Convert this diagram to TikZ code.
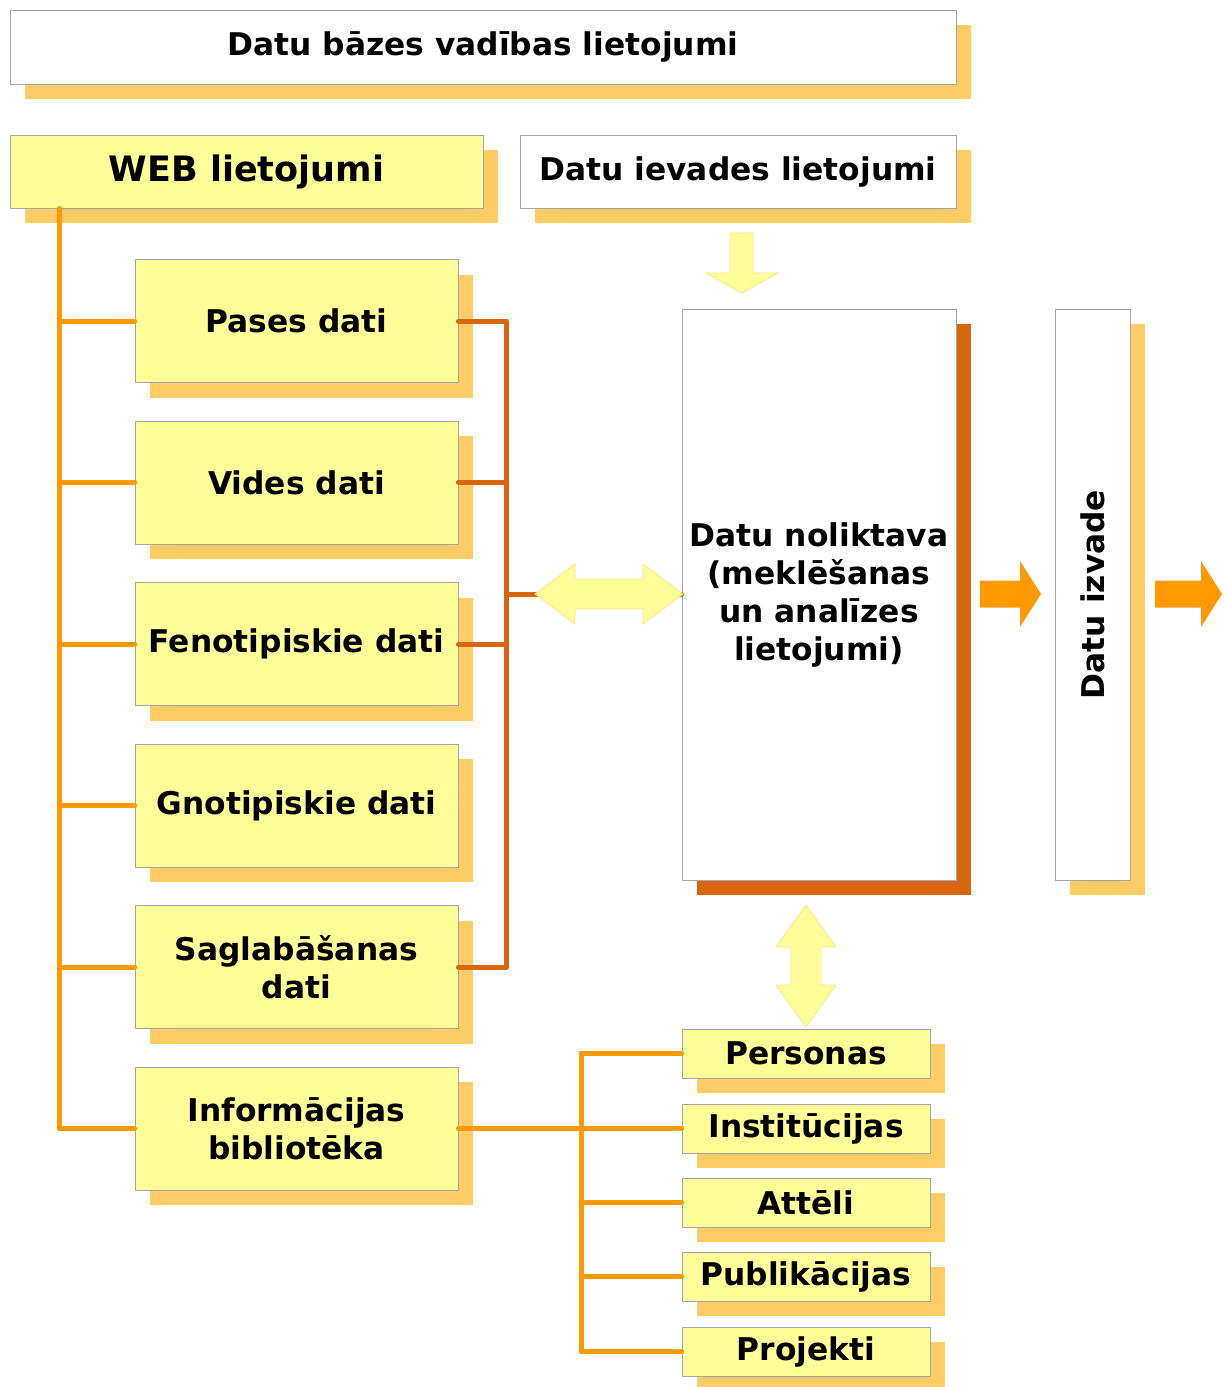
\documentclass[tikz,border=0pt]{standalone}
\usepackage{fontspec}
\setmainfont{DejaVu Sans}
\usetikzlibrary{shadows,calc}
\definecolor{byel}{HTML}{FFFF99}
\definecolor{shad}{HTML}{FFCC66}
\definecolor{bord}{HTML}{A6A6A6}
\definecolor{oline}{HTML}{FF9900}
\definecolor{dk}{HTML}{D9660D}
\definecolor{ayel}{HTML}{FFFF99}
\definecolor{aedge}{HTML}{FFE380}
\newcommand{\fs}[2]{\fontsize{#1}{#2}\selectfont}
\begin{document}
\begin{tikzpicture}[x=1pt,y=-1pt,
  basebox/.style={draw=bord, line width=0.8pt, inner sep=0pt, align=center, font=\bfseries\fs{31.3}{38}},
  lshadow/.style={general shadow={fill=shad, shadow xshift=15pt, shadow yshift=-15pt}},
  dshadow/.style={general shadow={fill=dk, shadow xshift=15pt, shadow yshift=-15pt}},
  ybox/.style={basebox, fill=byel, lshadow},
  wbox/.style={basebox, fill=white, lshadow},
  leftbox/.style={ybox, minimum width=323pt, minimum height=123pt},
  smallbox/.style={ybox, minimum width=248pt, minimum height=49pt, font=\bfseries\fs{31.3}{34}},
  oconn/.style={draw=oline, line width=5pt, line cap=round, line join=round},
  dconn/.style={draw=dk, line width=5pt, line cap=round, line join=round},
  yarrow/.style={fill=ayel, draw=aedge, line width=0.8pt},
  oarrow/.style={fill=oline}
]
\useasboundingbox (0,0) rectangle (1224,1387);

% top row
\node[wbox, minimum width=946pt, minimum height=74pt, font=\bfseries\fs{31.3}{34}] (dbv) at (483,47) {Datu bāzes vadības lietojumi};
\node[ybox, minimum width=473pt, minimum height=73pt, font=\bfseries\fs{35}{40}] (web) at (246.5,171.5) {WEB lietojumi};
\node[wbox, minimum width=436pt, minimum height=73pt] (iev) at (738,171.5) {Datu ievades lietojumi};

% left column
\node[leftbox] (pas) at (296.5,321) {Pases dati};
\node[leftbox] (vid) at (296.5,482.5) {Vides dati};
\node[leftbox] (fen) at (296.5,644) {Fenotipiskie dati};
\node[leftbox] (gno) at (296.5,805.5) {Gnotipiskie dati};
\node[leftbox] (sag) at (296.5,967) {Saglabāšanas\\dati};
\node[leftbox] (inf) at (296.5,1128.5) {Informācijas\\bibliotēka};

% central and right columns
\node[basebox, fill=white, dshadow, minimum width=274pt, minimum height=571pt] (nol) at (819,594.5) {Datu noliktava\\(meklēšanas\\un analīzes\\lietojumi)};
\node[wbox, minimum width=75pt, minimum height=571pt] (izv) at (1092.5,594.5) {};
\node[rotate=90, font=\bfseries\fs{31.3}{38}] (izvt) at (izv.center) {Datu izvade};

% bottom right
\node[smallbox] (per) at (806,1053.5) {Personas};
\node[smallbox] (ins) at (806,1128.5) {Institūcijas};
\node[smallbox] (att) at (806,1202.5) {Attēli};
\node[smallbox] (pub) at (806,1276.5) {Publikācijas};
\node[smallbox] (pro) at (806,1351.5) {Projekti};

% left trunk
\coordinate (trunk) at ($(web.south west)+(50,0)$);
\draw[oconn] (trunk) -- (trunk |- inf.west);
\foreach \n in {pas,vid,fen,gno,sag,inf} \draw[oconn] (trunk |- \n.west) -- (\n.west);

% right bracket
\coordinate (bx) at ($(pas.east)+(48,0)$);
\draw[dconn] (pas.east) -| (bx |- sag.east) -- (sag.east);
\foreach \n in {vid,fen} \draw[dconn] (\n.east) -- (bx |- \n.east);
\draw[dconn] (bx |- nol.west) -- (nol.west);

% bottom tree
\coordinate (tx) at ($(inf.east)+(123,0)$);
\draw[oconn] (inf.east) -- (ins.west);
\draw[oconn] (tx |- per.west) -- (tx |- pro.west);
\foreach \n in {per,att,pub,pro} \draw[oconn] (tx |- \n.west) -- (\n.west);

% arrows
\draw[yarrow] (730,233) -- (753,233) -- (753,273) -- (778,273) -- (742,293) -- (706,273) -- (730,273) -- cycle;
\draw[yarrow] (535,594) -- (575,564) -- (575,579) -- (643,579) -- (643,564) -- (683,594) -- (643,624) -- (643,609) -- (575,609) -- (575,624) -- cycle;
\draw[yarrow] (806,905) -- (836,947) -- (821,947) -- (821,985) -- (836,985) -- (806,1027) -- (776,985) -- (791,985) -- (791,947) -- (776,947) -- cycle;
\fill[oarrow] (980,580.5) -- (1020,580.5) -- (1020,561) -- (1041,594) -- (1020,627) -- (1020,607.5) -- (980,607.5) -- cycle;
\fill[oarrow] (1155,580.5) -- (1201,580.5) -- (1201,561) -- (1222,594) -- (1201,627) -- (1201,607.5) -- (1155,607.5) -- cycle;
\end{tikzpicture}
\end{document}
